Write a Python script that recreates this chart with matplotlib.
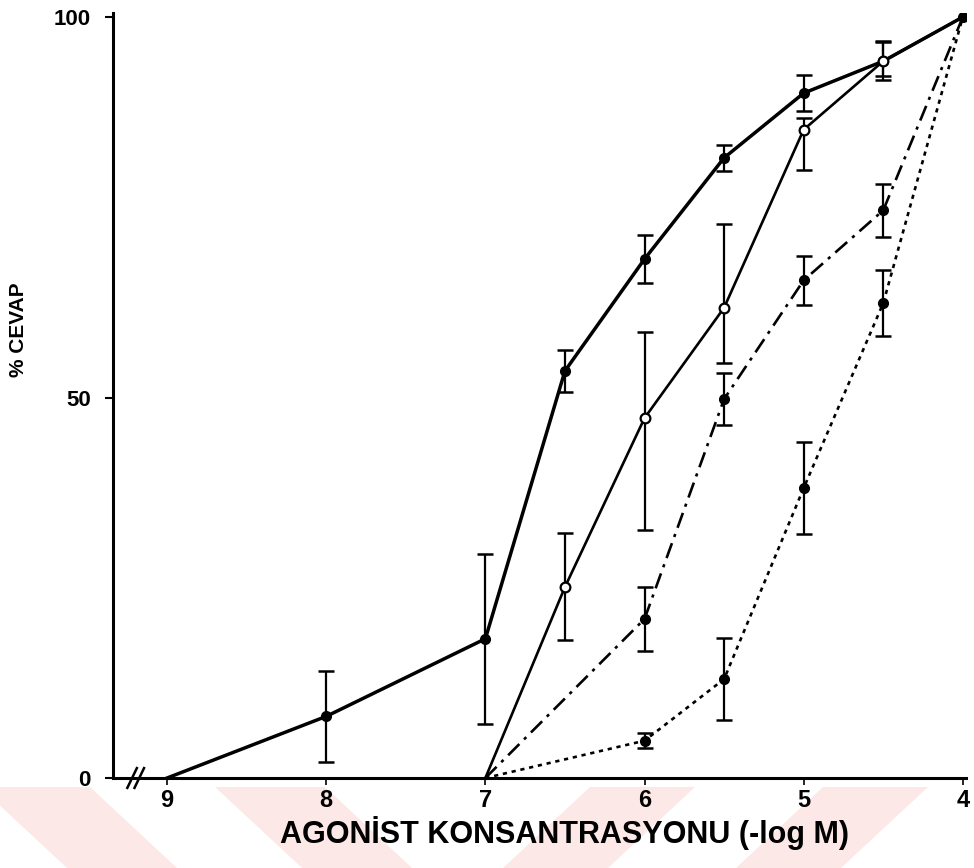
import matplotlib
matplotlib.use("Agg")
import matplotlib.pyplot as plt
from matplotlib.patches import Polygon
from matplotlib.lines import Line2D
import numpy as np

# ---- data ----
x_a = [9, 8, 7, 6.5, 6, 5.5, 5, 4.5, 4]
y_a = [0, 8.1, 18.3, 53.5, 68.2, 81.5, 90.0, 94.2, 100]
e_a = [0, 6.0, 11.2, 2.8, 3.2, 1.7, 2.4, 2.5, 0]

x_b = [7, 6.5, 6, 5.5, 5, 4.5, 4]
y_b = [0, 25.1, 47.3, 61.8, 85.2, 94.2, 100]
lo_b = [0, 7.0, 14.7, 7.3, 5.3, 2.0, 0]
up_b = [0, 7.1, 11.3, 11.0, 1.5, 2.6, 0]

x_c = [7, 6, 5.5, 5, 4.5, 4]
y_c = [0, 20.9, 49.8, 65.4, 74.6, 100]
e_c = [0, 4.2, 3.4, 3.2, 3.5, 0]

x_d = [7, 6, 5.5, 5, 4.5, 4]
y_d = [0, 4.9, 13.0, 38.1, 62.4, 100]
e_d = [0, 1.0, 5.4, 6.0, 4.3, 0]

x_ticks = [9, 8, 7, 6, 5, 4]
y_ticks = [0, 50, 100]
x_label = "AGONİST KONSANTRASYONU (-log M)"
y_label = "% CEVAP"

W, H = 974, 868
fig = plt.figure(figsize=(W / 100, H / 100), dpi=100)
fig.patch.set_facecolor("white")

# faint watermark chevrons at the bottom
pink = "#fde8e8"
ytop, ybot = H - 787, 0
for x0 in [-20, 215]:
    pts = [(x0, ytop), (x0 + 110, ytop), (x0 + 110 + 87, ybot), (x0 + 87, ybot)]
    fig.patches.append(Polygon([(px / W, py / H) for px, py in pts], closed=True,
                               transform=fig.transFigure, facecolor=pink,
                               edgecolor="none", zorder=0))
for x0 in [590, 823]:
    pts = [(x0, ytop), (x0 + 105, ytop), (x0 + 105 - 87, ybot), (x0 - 87, ybot)]
    fig.patches.append(Polygon([(px / W, py / H) for px, py in pts], closed=True,
                               transform=fig.transFigure, facecolor=pink,
                               edgecolor="none", zorder=0))

ax = fig.add_axes([113 / W, (H - 778) / H, (966 - 113) / W, (778 - 13) / H])
ax.set_zorder(2)
ax.set_facecolor("none")
ax.set_xlim(9.34, 3.98)
ax.set_ylim(0, 100.53)

for s in ["top", "right"]:
    ax.spines[s].set_visible(False)
ax.spines["left"].set_linewidth(2.2)
ax.spines["bottom"].set_linewidth(2.2)

def eb(x, y, lo, up):
    x = np.array(x); y = np.array(y); lo = np.array(lo); up = np.array(up)
    m = (lo > 0) | (up > 0)
    ax.errorbar(x[m], y[m], yerr=[lo[m], up[m]], fmt="none", ecolor="black",
                elinewidth=1.6, capsize=6, capthick=1.8, zorder=3)

# Series A
ax.plot(x_a, y_a, color="black", lw=2.5, zorder=4)
ax.plot(x_a[1:], y_a[1:], "o", color="black", ms=7, zorder=5)
eb(x_a, y_a, e_a, e_a)

# Series B (open circles)
ax.plot(x_b, y_b, color="black", lw=1.9, zorder=4)
ax.plot(x_b[1:-1], y_b[1:-1], "o", mfc="white", mec="black", mew=1.6, ms=7, zorder=6)
eb(x_b, y_b, lo_b, up_b)

# Series C (dash-dot)
ax.plot(x_c, y_c, color="black", lw=1.9, ls=(0, (6, 2.5, 1.2, 2.5)), zorder=4)
ax.plot(x_c[1:-1], y_c[1:-1], "o", color="black", ms=7, zorder=5)
eb(x_c, y_c, e_c, e_c)

# Series D (dotted)
ax.plot(x_d, y_d, color="black", lw=1.9, ls=(0, (1.6, 1.8)), zorder=4)
ax.plot(x_d[1:-1], y_d[1:-1], "o", color="black", ms=7, zorder=5)
eb(x_d, y_d, e_d, e_d)

ax.set_xticks(x_ticks)
ax.set_xticklabels([str(t) for t in x_ticks], fontfamily="Liberation Sans",
                   fontweight="bold", fontsize=17)
ax.set_yticks(y_ticks)
ax.set_yticklabels([str(t) for t in y_ticks], fontfamily="Liberation Sans",
                   fontweight="bold", fontsize=16)
ax.tick_params(axis="x", direction="out", length=5, width=1.2, pad=3)
ax.tick_params(axis="y", direction="out", length=6, width=1.5, pad=10)

# axis break marks
for dx in [0, 0.045]:
    ax.add_line(Line2D([9.22 - dx + 0.03, 9.22 - dx - 0.03], [-1.3, 1.3], color="black",
                       lw=1.8, clip_on=False, zorder=7))

fig.text(565 / W, 1 - 833 / H, x_label, ha="center", va="center",
         fontfamily="Liberation Sans", fontweight="bold", fontsize=22)
fig.text(19 / W, 1 - 330 / H, y_label, ha="center", va="center", rotation=90,
         fontfamily="Liberation Sans", fontweight="bold", fontsize=15)

fig.savefig("out.png", dpi=100, facecolor="white")
